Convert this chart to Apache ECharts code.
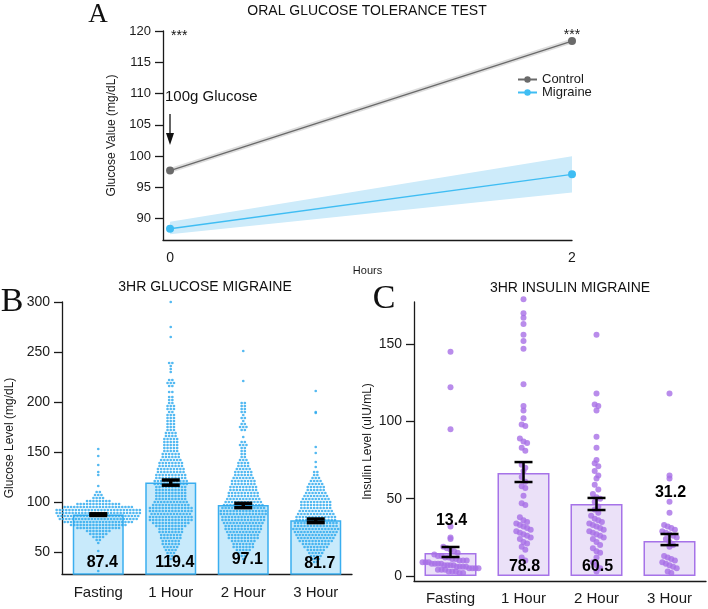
<!DOCTYPE html>
<html lang="en">
<head>
<meta charset="UTF-8">
<title>OGTT</title>
<style>
    html, body { margin: 0; padding: 0; background: #fff; }
    #main { width: 708px; height: 609px; }
</style>
</head>
<body>
<div id="main"></div>
<script src="https://cdn.jsdelivr.net/npm/echarts@6.0.0/dist/echarts.min.js"></script>
<script>
    // ---- A: oral glucose tolerance test ----
    var hours = [0, 2];
    var controlMean = [97.7, 118.4];
    var controlLow = [97.3, 118.0];
    var controlHigh = [98.1, 118.8];
    var migraineMean = [88.4, 97.1];
    var migraineLow = [87.5, 94.2];
    var migraineHigh = [89.5, 100.0];
    var glucoseTicksA = [90, 95, 100, 105, 110, 115, 120];
    var hourTicks = [0, 2];

    // ---- B / C shared ----
    var timepoints = ['Fasting', '1 Hour', '2 Hour', '3 Hour'];

    // ---- B: glucose, rows of the swarm [value, number of dots] ----
    var glucoseMeans = [87.4, 119.4, 97.1, 81.7];
    var glucoseErr = [[86.6, 88.2], [116.8, 122.0], [94.4, 98.7], [79.4, 83.0]];
    var glucoseTicks = [50, 100, 150, 200, 250, 300];
    var fastingRows = [[153, 1], [146, 1], [137, 1], [130, 1], [127, 1], [116, 1], [110, 2], [107, 3], [104, 4],
        [101, 8], [98, 14], [95, 22], [92, 27], [89, 27], [86, 26], [83, 25], [80, 22], [77, 18], [74, 14],
        [71, 8], [68, 6], [65, 4], [62, 2], [59, 1], [51, 1], [31, 1]];
    var hour1Rows = [[300, 1], [275, 1], [265, 1], [239, 2], [236, 1], [233, 1], [230, 1], [222, 2], [219, 3],
        [216, 2], [210, 2], [205, 2], [202, 2], [199, 2], [196, 3], [193, 3], [190, 2], [187, 3], [184, 3],
        [181, 3], [178, 3], [175, 3], [172, 3], [169, 4], [166, 4], [163, 5], [160, 5], [157, 5], [154, 5],
        [151, 5], [148, 6], [145, 6], [142, 7], [139, 8], [136, 8], [133, 9], [130, 9], [127, 10], [124, 10],
        [121, 11], [118, 11], [115, 10], [112, 10], [109, 10], [106, 10], [103, 10], [100, 11], [97, 12],
        [94, 14], [91, 14], [88, 13], [85, 14], [82, 14], [79, 12], [76, 10], [73, 8], [70, 8], [67, 7],
        [64, 7], [61, 6], [58, 6], [55, 5], [52, 4], [49, 3], [46, 2], [43, 1]];
    var hour2Rows = [[251, 1], [221, 1], [199, 2], [196, 2], [193, 2], [190, 2], [187, 1], [184, 2], [181, 1],
        [178, 2], [175, 3], [172, 2], [165, 1], [160, 2], [157, 3], [154, 2], [151, 2], [148, 2], [145, 2],
        [142, 3], [139, 4], [136, 4], [133, 5], [130, 6], [127, 6], [124, 7], [121, 8], [118, 8], [115, 9],
        [112, 9], [109, 10], [106, 10], [103, 11], [100, 12], [97, 13], [94, 14], [91, 15], [88, 15],
        [85, 14], [82, 14], [79, 13], [76, 12], [73, 12], [70, 11], [67, 10], [64, 10], [61, 8], [58, 7],
        [55, 7], [52, 5], [49, 4], [46, 2], [43, 1]];
    var hour3Rows = [[211, 1], [190, 1], [189, 1], [155, 1], [149, 1], [140, 1], [135, 1], [130, 2], [127, 2],
        [124, 3], [121, 4], [118, 5], [115, 6], [112, 6], [109, 7], [106, 8], [103, 9], [100, 10], [97, 10],
        [94, 10], [91, 11], [88, 12], [85, 13], [82, 13], [79, 14], [76, 14], [73, 15], [70, 14], [67, 13],
        [64, 12], [61, 11], [58, 9], [55, 8], [52, 6], [49, 5], [46, 4], [43, 3], [40, 2]];

    // ---- C: insulin ----
    var insulinMeans = [14.9, 66.6, 46.6, 22.6];
    var insulinErr = [[12.3, 18.8], [60.8, 73.7], [42.7, 50.5], [20.0, 27.2]];
    var insulinLabels = ['13.4', '78.8', '60.5', '31.2'];
    var insulinTicks = [0, 50, 100, 150];
    var insulinFasting = [145, 122, 95, 32, 25, 24, 19, 18, 17, 16, 15, 14, 13, 13, 12, 12, 11, 11, 10, 10, 10,
        9, 9, 9, 8, 8, 8, 8, 7, 7, 7, 7, 6, 6, 6, 6, 5, 5, 5, 5, 4, 4, 4, 3, 3, 3, 2, 2];
    var insulinHour1 = [179, 170, 167, 163, 156, 152, 147, 124, 110, 107, 102, 98, 97, 89, 87, 86, 83, 81, 72,
        70, 68, 64, 61, 58, 57, 52, 47, 46, 38, 36, 35, 34, 33, 32, 31, 30, 29, 28, 27, 26, 25, 24, 22, 21,
        19, 17, 12, 10];
    var insulinHour2 = [156, 118, 111, 110, 107, 90, 83, 75, 73, 71, 68, 65, 63, 59, 56, 53, 51, 50, 48, 45, 43,
        41, 39, 37, 36, 35, 34, 33, 32, 31, 30, 29, 28, 27, 26, 25, 24, 22, 20, 18, 16, 15, 12, 9, 7, 5, 3];
    var insulinHour3 = [118, 65, 63, 48, 41, 33, 32, 31, 30, 29, 28, 27, 26, 25, 24, 22, 20, 19, 13, 12, 11, 10,
        9, 8, 7, 6, 5, 3, 2];

    var FONT = '"Liberation Sans", Arial, sans-serif';
    var SERIF = '"Liberation Serif", "Times New Roman", serif';
    var bandB = 290 / 4;
    var bandC = 292 / 4;

    // beeswarm: each row is centred on the category, dots side by side
    function swarm(rows, idx, stepPx, bandPx) {
        var pts = [];
        rows.forEach(function (r) {
            var n = r[1];
            for (var k = 0; k < n; k++) {
                pts.push([idx + (k - (n - 1) / 2) * stepPx / bandPx, r[0]]);
            }
        });
        return pts;
    }

    // prism-like spread: values binned, each bin laid out left->right high->low
    function spread(vals, idx, binW, stepPx, maxPx, bandPx) {
        var bins = {};
        vals.forEach(function (v) {
            var b = Math.floor(v / binW);
            (bins[b] = bins[b] || []).push(v);
        });
        var pts = [];
        Object.keys(bins).forEach(function (b) {
            var arr = bins[b].slice().sort(function (a, c) { return c - a; });
            var n = arr.length;
            var step = n > 1 ? Math.min(stepPx, maxPx / (n - 1)) : 0;
            arr.forEach(function (v, k) {
                pts.push([idx + (k - (n - 1) / 2) * step / bandPx, v]);
            });
        });
        return pts;
    }

    var dotsB = [].concat(
        swarm(fastingRows, 0, 3.2, bandB), swarm(hour1Rows, 1, 3.2, bandB),
        swarm(hour2Rows, 2, 3.2, bandB), swarm(hour3Rows, 3, 3.2, bandB));
    var dotsC = [].concat(
        spread(insulinFasting, 0, 5, 3.6, 56, bandC), spread(insulinHour1, 1, 5, 3.6, 56, bandC),
        spread(insulinHour2, 2, 5, 3.6, 56, bandC), spread(insulinHour3, 3, 5, 3.6, 56, bandC));

    function bandSeries(low, high, color) {
        return {
            type: 'custom', xAxisIndex: 0, yAxisIndex: 0, silent: true, z: 1,
            data: hours.map(function (h, i) { return [h, low[i], high[i]]; }),
            renderItem: function (params, api) {
                var i = params.dataIndex;
                if (i >= hours.length - 1) return;
                var pts = [
                    api.coord([hours[i], low[i]]), api.coord([hours[i + 1], low[i + 1]]),
                    api.coord([hours[i + 1], high[i + 1]]), api.coord([hours[i], high[i]])
                ];
                return { type: 'polygon', shape: { points: pts }, style: { fill: color } };
            }
        };
    }

    function errorSeries(errs, xi, yi, capHalf, lw) {
        return {
            type: 'custom', xAxisIndex: xi, yAxisIndex: yi, silent: true, z: 5,
            data: errs.map(function (e, i) { return [i, e[0], e[1]]; }),
            renderItem: function (params, api) {
                var lo = api.coord([api.value(0), api.value(1)]);
                var hi = api.coord([api.value(0), api.value(2)]);
                var st = { stroke: '#000', lineWidth: lw };
                return {
                    type: 'group', children: [
                        { type: 'line', shape: { x1: lo[0], y1: lo[1], x2: hi[0], y2: hi[1] }, style: st },
                        { type: 'line', shape: { x1: lo[0] - capHalf, y1: lo[1], x2: lo[0] + capHalf, y2: lo[1] }, style: st },
                        { type: 'line', shape: { x1: hi[0] - capHalf, y1: hi[1], x2: hi[0] + capHalf, y2: hi[1] }, style: st }
                    ]
                };
            }
        };
    }

    // bold number labels, anchored at [category, value], dx in pixels
    function numberSeries(texts, anchorY, xi, yi, dx) {
        return {
            type: 'custom', xAxisIndex: xi, yAxisIndex: yi, silent: true, z: 7,
            data: texts.map(function (t, i) { return [i, anchorY[i]]; }),
            renderItem: function (params, api) {
                var p = api.coord([api.value(0), api.value(1)]);
                return {
                    type: 'text', x: p[0] + dx, y: p[1],
                    style: {
                        text: texts[params.dataIndex], font: 'bold 16px ' + FONT, fill: '#000',
                        align: 'center', verticalAlign: 'middle'
                    }
                };
            }
        };
    }

    function axisLine() {
        return { show: true, onZero: false, lineStyle: { color: '#1a1a1a', width: 1.3 } };
    }

    var chart = echarts.init(document.getElementById('main'));
    var option = {
        animation: false,
        textStyle: { fontFamily: FONT },
        grid: [
            { left: 163, top: 31, width: 409, height: 209 },
            { left: 62, top: 302, width: 290, height: 272 },
            { left: 414, top: 302, width: 292, height: 279 }
        ],
        legend: {
            data: ['Control', 'Migraine'], orient: 'vertical', left: 512, top: 68,
            itemWidth: 19, itemHeight: 8, itemGap: 0,
            textStyle: { fontSize: 13, lineHeight: 13, color: '#1a1a1a', fontFamily: FONT }
        },
        xAxis: [
            {
                gridIndex: 0, type: 'value', min: -0.035, max: 2,
                axisLine: axisLine(), axisTick: { show: false }, splitLine: { show: false },
                axisLabel: { customValues: hourTicks, fontSize: 14, color: '#1a1a1a', margin: 11 },
                name: 'Hours', nameLocation: 'middle', nameGap: 19,
                nameTextStyle: { fontSize: 11, color: '#1a1a1a' }
            },
            {
                gridIndex: 1, type: 'category', data: timepoints,
                axisLine: axisLine(), splitLine: { show: false },
                axisTick: { alignWithLabel: true, length: 7, lineStyle: { color: '#1a1a1a', width: 1.3 } },
                axisLabel: { fontSize: 15, color: '#1a1a1a', margin: 11 }
            },
            { gridIndex: 1, type: 'value', min: -0.5, max: 3.5, show: false },
            {
                gridIndex: 2, type: 'category', data: timepoints,
                axisLine: axisLine(), splitLine: { show: false },
                axisTick: { alignWithLabel: true, length: 7, lineStyle: { color: '#1a1a1a', width: 1.3 } },
                axisLabel: { fontSize: 15, color: '#1a1a1a', margin: 10 }
            },
            { gridIndex: 2, type: 'value', min: -0.5, max: 3.5, show: false }
        ],
        yAxis: [
            {
                gridIndex: 0, type: 'value', min: 86.6, max: 120,
                axisLine: axisLine(), splitLine: { show: false },
                axisTick: { show: true, customValues: glucoseTicksA, length: 8, lineStyle: { color: '#1a1a1a', width: 1.3 } },
                axisLabel: { customValues: glucoseTicksA, fontSize: 13, color: '#1a1a1a', margin: 12 },
                name: 'Glucose Value (mg/dL)', nameLocation: 'middle', nameGap: 45,
                nameTextStyle: { fontSize: 12, color: '#1a1a1a' }
            },
            {
                gridIndex: 1, type: 'value', min: 28, max: 300,
                axisLine: axisLine(), splitLine: { show: false },
                axisTick: { show: true, customValues: glucoseTicks, length: 8, lineStyle: { color: '#1a1a1a', width: 1.3 } },
                axisLabel: { customValues: glucoseTicks, fontSize: 14, color: '#1a1a1a', margin: 12 },
                name: 'Glucose Level (mg/dL)', nameLocation: 'middle', nameGap: 46,
                nameTextStyle: { fontSize: 12, color: '#1a1a1a' }
            },
            {
                gridIndex: 2, type: 'value', min: -3.2, max: 177.2,
                axisLine: axisLine(), splitLine: { show: false },
                axisTick: { show: true, customValues: insulinTicks, length: 8, lineStyle: { color: '#1a1a1a', width: 1.3 } },
                axisLabel: { customValues: insulinTicks, fontSize: 14, color: '#1a1a1a', margin: 12 },
                name: 'Insulin Level (uIU/mL)', nameLocation: 'middle', nameGap: 40,
                nameTextStyle: { fontSize: 12, color: '#1a1a1a' }
            }
        ],
        series: [
            // A
            bandSeries(controlLow, controlHigh, 'rgba(120,120,120,0.25)'),
            bandSeries(migraineLow, migraineHigh, '#cdebfa'),
            {
                name: 'Control', type: 'line', xAxisIndex: 0, yAxisIndex: 0, z: 3,
                data: hours.map(function (h, i) { return [h, controlMean[i]]; }),
                symbol: 'circle', symbolSize: 8, color: '#6a6a6a',
                lineStyle: { width: 1.3, color: '#6a6a6a' },
                label: {
                    show: true, position: 'top', distance: 0, offset: [0, 5], fontSize: 14, color: '#1a1a1a',
                    formatter: function (p) { return p.dataIndex === hours.length - 1 ? '***' : ''; }
                }
            },
            {
                name: 'Migraine', type: 'line', xAxisIndex: 0, yAxisIndex: 0, z: 3,
                data: hours.map(function (h, i) { return [h, migraineMean[i]]; }),
                symbol: 'circle', symbolSize: 8, color: '#3fbdf3',
                lineStyle: { width: 1.3, color: '#3fbdf3' }
            },
            // B
            {
                type: 'bar', xAxisIndex: 1, yAxisIndex: 1, data: glucoseMeans, barWidth: 51, z: 2,
                itemStyle: { color: '#c8eafb', borderColor: '#3aaef0', borderWidth: 1.5 }
            },
            {
                type: 'scatter', xAxisIndex: 2, yAxisIndex: 1, data: dotsB, symbolSize: 2.7, z: 3,
                itemStyle: { color: '#29a8ee' }, silent: true, clip: false
            },
            errorSeries(glucoseErr, 1, 1, 9, 3.5),
            numberSeries(glucoseMeans.map(String), [39, 39, 42, 38], 1, 1, 4),
            // C
            {
                type: 'bar', xAxisIndex: 3, yAxisIndex: 2, data: insulinMeans, barWidth: 52, z: 2,
                itemStyle: { color: '#ebe1f8', borderColor: '#a673e8', borderWidth: 1.5 }
            },
            {
                type: 'scatter', xAxisIndex: 4, yAxisIndex: 2, data: dotsC, symbolSize: 6, z: 3,
                itemStyle: { color: '#a76fe6' }, silent: true, clip: false
            },
            errorSeries(insulinErr, 3, 2, 9, 2.5),
            numberSeries(insulinLabels, [36, 6, 6, 54], 3, 2, 1)
        ],
        graphic: [
            { type: 'text', x: 98, y: 15, style: { text: 'A', font: '27px ' + SERIF, fill: '#111', align: 'center', verticalAlign: 'middle' } },
            { type: 'text', x: 367, y: 11, style: { text: 'ORAL GLUCOSE TOLERANCE TEST', font: '14px ' + FONT, fill: '#111', align: 'center', verticalAlign: 'middle' } },
            { type: 'text', x: 171, y: 36, style: { text: '***', font: '14px ' + FONT, fill: '#111', align: 'left', verticalAlign: 'middle' } },
            { type: 'text', x: 165, y: 97, style: { text: '100g Glucose', font: '15px ' + FONT, fill: '#111', align: 'left', verticalAlign: 'middle' } },
            { type: 'line', shape: { x1: 170, y1: 114, x2: 170, y2: 136 }, style: { stroke: '#111', lineWidth: 1.3 } },
            { type: 'polygon', shape: { points: [[166, 133], [174, 133], [170, 145]] }, style: { fill: '#111' } },
            { type: 'text', x: 12, y: 302, style: { text: 'B', font: '34px ' + SERIF, fill: '#111', align: 'center', verticalAlign: 'middle' } },
            { type: 'text', x: 205, y: 287, style: { text: '3HR GLUCOSE MIGRAINE', font: '14px ' + FONT, fill: '#111', align: 'center', verticalAlign: 'middle' } },
            { type: 'text', x: 384, y: 299, style: { text: 'C', font: '34px ' + SERIF, fill: '#111', align: 'center', verticalAlign: 'middle' } },
            { type: 'text', x: 570, y: 288, style: { text: '3HR INSULIN MIGRAINE', font: '14px ' + FONT, fill: '#111', align: 'center', verticalAlign: 'middle' } }
        ]
    };
    chart.setOption(option);
</script>
</body>
</html>
